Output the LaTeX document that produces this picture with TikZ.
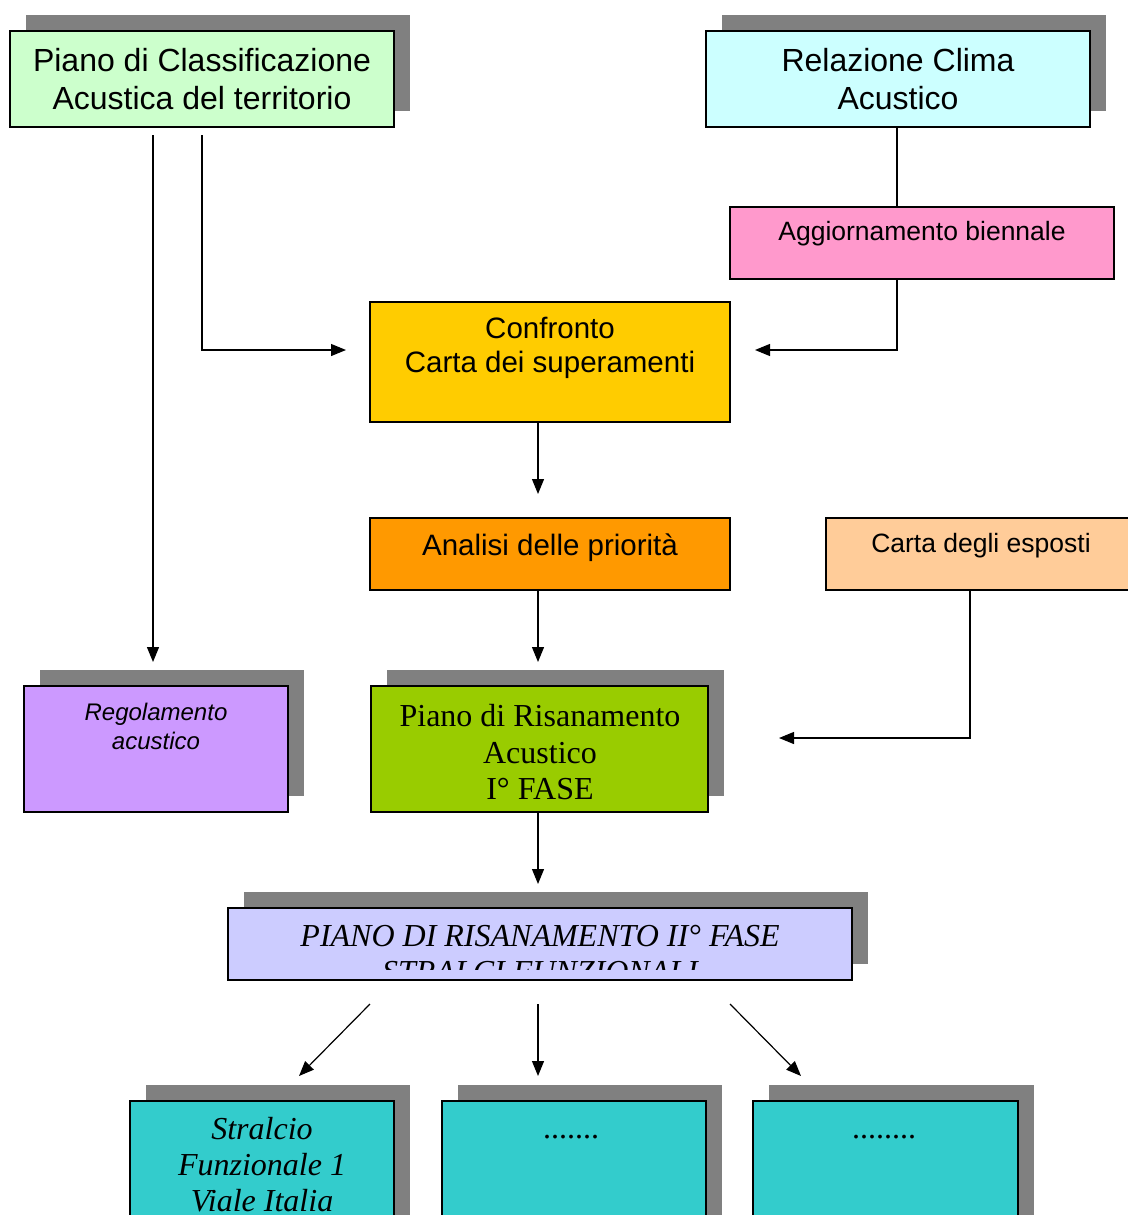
\documentclass[tikz,border=0pt]{standalone}
\usepackage{fontspec}
\setmainfont{Liberation Serif}
\newfontfamily\arial{Liberation Sans}
\usetikzlibrary{arrows.meta,calc}
\definecolor{shadowc}{HTML}{808080}
\definecolor{cPCA}{HTML}{CCFFCC}
\definecolor{cRel}{HTML}{CCFFFF}
\definecolor{cAgg}{HTML}{FF99CC}
\definecolor{cConf}{HTML}{FFCC00}
\definecolor{cAna}{HTML}{FF9900}
\definecolor{cCarta}{HTML}{FFCC99}
\definecolor{cReg}{HTML}{CC99FF}
\definecolor{cPRA}{HTML}{99CC00}
\definecolor{cPRB}{HTML}{CCCCFF}
\definecolor{cStr}{HTML}{33CCCC}
\tikzset{
  boxst/.style={draw=black, line width=1.6pt, rectangle, inner sep=0pt, outer sep=0pt},
  arr/.style={line width=1.2pt, -{Triangle[length=15pt,width=12pt]}},
  ln/.style={line width=1.2pt},
  txt/.style={inner sep=0pt, align=center, text=black}
}
% #1 name, #2 x1, #3 y1, #4 x2, #5 y2, #6 fill, #7 shadow (1/0)
\newcommand{\mkbox}[7]{%
  \ifnum#7=1 \fill[shadowc] ({#2+16},{#3-16}) rectangle ({#4+16},{#5-16});\fi
  \node[boxst, fill=#6, minimum width={#4pt-#2pt}, minimum height={#5pt-#3pt}] (#1) at ({(#2+#4)/2},{(#3+#5)/2}) {};%
}
\begin{document}
\begin{tikzpicture}[x=1pt,y=-1pt]
\useasboundingbox (0,0) rectangle (1127,1215);
\fill[white] (0,0) rectangle (1127,1215);

% boxes
\mkbox{pca}{10}{31}{394}{127}{cPCA}{1}
\mkbox{rel}{706}{31}{1090}{127}{cRel}{1}
\mkbox{agg}{730}{207}{1114}{279}{cAgg}{0}
\mkbox{conf}{370}{302}{730}{422}{cConf}{0}
\mkbox{ana}{370}{518}{730}{590}{cAna}{0}
\mkbox{carta}{826}{518}{1140}{590}{cCarta}{0}
\mkbox{reg}{24}{686}{288}{812}{cReg}{1}
\mkbox{pra}{371}{686}{708}{812}{cPRA}{1}
\mkbox{prb}{228}{908}{852}{980}{cPRB}{1}
\mkbox{s1}{130}{1101}{394}{1240}{cStr}{1}
\mkbox{s2}{442}{1101}{706}{1240}{cStr}{1}
\mkbox{s3}{753}{1101}{1018}{1240}{cStr}{1}

% texts
\node[txt, font=\arial\fontsize{32}{38}\selectfont] at (202,79) {Piano di Classificazione\\Acustica del territorio};
\node[txt, font=\arial\fontsize{32}{38}\selectfont] at (898,79) {Relazione Clima\\Acustico};
\node[txt, font=\arial\fontsize{26.5}{30}\selectfont] at (922,234) {Aggiornamento biennale};
\node[txt, font=\arial\fontsize{29.5}{34}\selectfont] at (550,348) {Confronto\\Carta dei superamenti};
\node[txt, font=\arial\fontsize{29.5}{34}\selectfont] at (550,548) {Analisi delle priorità};
\node[txt, font=\arial\fontsize{26.5}{30}\selectfont] at (981,546) {Carta degli esposti};
\node[txt, font=\arial\itshape\fontsize{24}{29}\selectfont] at (156,726) {Regolamento\\acustico};
\node[txt, font=\fontsize{32}{36.5}\selectfont] at (540,752.5) {Piano di Risanamento\\Acustico\\I° FASE};
\begin{scope}
  \clip (230,912) rectangle (850,969);
  \node[txt, anchor=north, font=\itshape\fontsize{32}{36}\selectfont] at (540,925) {PIANO DI RISANAMENTO II° FASE\\STRALCI FUNZIONALI};
\end{scope}
\begin{scope}
  \clip (130,1101) rectangle (394,1215);
  \node[txt, anchor=north, font=\itshape\fontsize{32}{36}\selectfont] at (262,1117) {Stralcio\\Funzionale 1\\Viale Italia};
\end{scope}
\node[txt, font=\fontsize{32}{30}\selectfont] at (571,1137) {.......};
\node[txt, font=\fontsize{32}{30}\selectfont] at (884,1137) {........};

% connectors
\coordinate (p1) at (153,135);
\coordinate (p2) at (153,662);
\draw[arr] (p1) -- (p2);
\coordinate (q1) at (202,135);
\coordinate (q2) at (346,350);
\draw[arr] (q1) |- (q2);
\coordinate (r1) at (897,127);
\draw[ln] (r1) -- (r1 |- agg.north);
\coordinate (g1) at (897,279);
\coordinate (g2) at (755,350);
\draw[arr] (g1) |- (g2);
\coordinate (c1) at (538,422);
\coordinate (c2) at (538,494);
\draw[arr] (c1) -- (c2);
\coordinate (a1) at (538,590);
\coordinate (a2) at (538,662);
\draw[arr] (a1) -- (a2);
\coordinate (k1) at (970,590);
\coordinate (k2) at (779,738);
\draw[arr] (k1) |- (k2);
\coordinate (m1) at (538,812);
\coordinate (m2) at (538,884);
\draw[arr] (m1) -- (m2);
\coordinate (d1) at (370,1004);
\coordinate (d2) at (299,1076);
\draw[arr] (d1) -- (d2);
\coordinate (e1) at (538,1004);
\coordinate (e2) at (538,1076);
\draw[arr] (e1) -- (e2);
\coordinate (f1) at (730,1004);
\coordinate (f2) at (801,1076);
\draw[arr] (f1) -- (f2);
\end{tikzpicture}
\end{document}
